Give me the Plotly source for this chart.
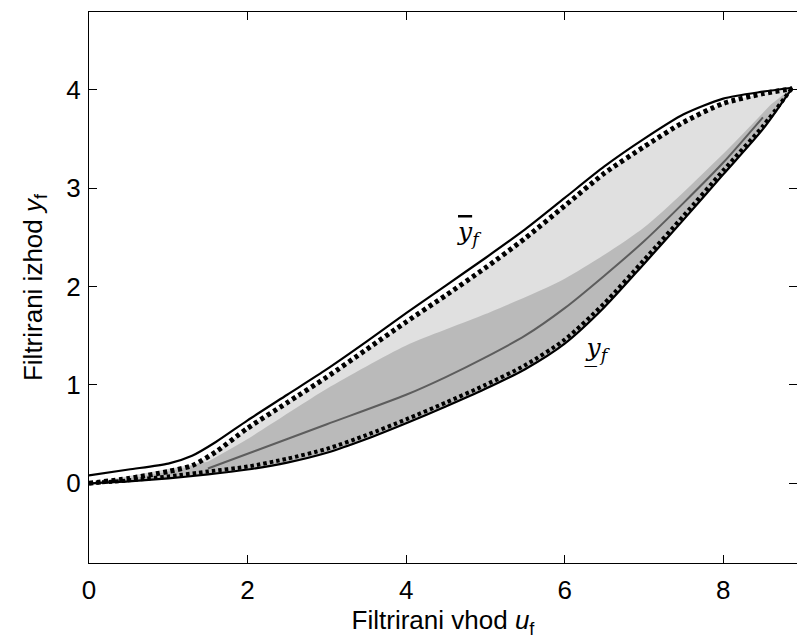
import plotly.graph_objects as go

# ---- data ----
x_up = [0, 0.5, 1.0, 1.3, 1.6, 2.0, 2.5, 3.0, 3.5, 4.0, 4.5, 5.0, 5.5, 6.0, 6.5, 7.0, 7.5, 8.0, 8.5, 8.87]
y_up_solid = [0.08, 0.14, 0.20, 0.28, 0.42, 0.64, 0.90, 1.16, 1.44, 1.73, 2.01, 2.29, 2.58, 2.90, 3.22, 3.50, 3.75, 3.91, 3.98, 4.02]
y_up_dots = [0.0, 0.05, 0.12, 0.18, 0.32, 0.56, 0.82, 1.08, 1.36, 1.64, 1.91, 2.19, 2.49, 2.82, 3.15, 3.42, 3.67, 3.86, 3.96, 4.01]

x_lo = [0, 0.5, 1.0, 1.5, 2.0, 2.5, 3.0, 3.5, 4.0, 4.5, 5.0, 5.5, 6.0, 6.5, 7.0, 7.5, 8.0, 8.5, 8.87]
y_lo_solid = [0.0, 0.02, 0.05, 0.09, 0.14, 0.21, 0.31, 0.45, 0.61, 0.78, 0.96, 1.16, 1.42, 1.79, 2.23, 2.68, 3.14, 3.60, 4.02]
y_lo_dots = [0.0, 0.03, 0.07, 0.12, 0.17, 0.25, 0.35, 0.49, 0.65, 0.82, 1.00, 1.20, 1.46, 1.83, 2.27, 2.72, 3.18, 3.63, 4.02]

x_band = [1.5, 2.0, 3.0, 4.0, 5.0, 6.0, 7.0, 8.0, 8.6]
y_band_top = [0.22, 0.45, 0.96, 1.40, 1.72, 2.08, 2.60, 3.35, 3.85]

x_ridge = [1.5, 2.0, 3.0, 4.0, 4.5, 5.0, 5.5, 6.0, 6.5, 7.0, 7.5, 8.0, 8.5]
y_ridge = [0.15, 0.30, 0.60, 0.90, 1.08, 1.28, 1.50, 1.78, 2.11, 2.46, 2.85, 3.26, 3.72]

x_ticks = [0, 2, 4, 6, 8]
y_ticks = [0, 1, 2, 3, 4]

SM = dict(shape="spline", smoothing=0.7)

fig = go.Figure()

# light cloud: between upper dotted bound and lower bound
fig.add_trace(go.Scatter(x=x_lo, y=y_lo_solid, mode="lines", line=dict(width=0, **SM),
                         showlegend=False, hoverinfo="skip"))
fig.add_trace(go.Scatter(x=x_up, y=y_up_dots, mode="lines", line=dict(width=0, **SM),
                         fill="tonexty", fillcolor="rgba(0,0,0,0.12)",
                         showlegend=False, hoverinfo="skip"))
# denser cloud near the lower bound
fig.add_trace(go.Scatter(x=x_lo, y=y_lo_solid, mode="lines", line=dict(width=0, **SM),
                         showlegend=False, hoverinfo="skip"))
fig.add_trace(go.Scatter(x=x_band, y=y_band_top, mode="lines", line=dict(width=0, **SM),
                         fill="tonexty", fillcolor="rgba(0,0,0,0.17)",
                         showlegend=False, hoverinfo="skip"))
# ridge of highest density
fig.add_trace(go.Scatter(x=x_ridge, y=y_ridge, mode="lines",
                         line=dict(color="rgba(0,0,0,0.5)", width=2, **SM),
                         showlegend=False, hoverinfo="skip"))

# bounds
fig.add_trace(go.Scatter(x=x_up, y=y_up_solid, mode="lines",
                         line=dict(color="black", width=2.2, **SM), showlegend=False))
fig.add_trace(go.Scatter(x=x_up, y=y_up_dots, mode="lines",
                         line=dict(color="black", width=5, dash="4px,3.5px", **SM), showlegend=False))
fig.add_trace(go.Scatter(x=x_lo, y=y_lo_solid, mode="lines",
                         line=dict(color="black", width=2.2, **SM), showlegend=False))
fig.add_trace(go.Scatter(x=x_lo, y=y_lo_dots, mode="lines",
                         line=dict(color="black", width=4, dash="3.5px,3px", **SM), showlegend=False))

fig.add_annotation(x=4.80, y=2.54, xref="x", yref="y", showarrow=False,
                   text='<span style="text-decoration:overline"><i>y</i></span><sub><i>f</i></sub>',
                   font=dict(family="DejaVu Serif", size=25, color="black"))
fig.add_annotation(x=6.41, y=1.35, xref="x", yref="y", showarrow=False,
                   text='<i>y\u0332</i><sub><i>f</i></sub>',
                   font=dict(family="DejaVu Serif", size=25, color="black"))

axis_common = dict(showgrid=False, zeroline=False, showline=True, linecolor="black",
                   linewidth=1.3, mirror="allticks", ticks="inside", ticklen=8,
                   tickcolor="black", tickwidth=1.3,
                   tickfont=dict(family="Liberation Sans", size=26, color="black"))

fig.update_xaxes(range=[0, 8.93], tickvals=x_ticks, ticktext=[str(v) for v in x_ticks],
                 ticklabelstandoff=4,
                 title=dict(text="Filtrirani vhod <i>u</i><sub>f</sub>",
                            font=dict(family="Liberation Sans", size=26, color="black"),
                            standoff=6),
                 **axis_common)
fig.update_yaxes(range=[-0.81, 4.79], tickvals=y_ticks, ticktext=[str(v) for v in y_ticks],
                 ticklabelstandoff=2,
                 title=dict(text="Filtrirani izhod <i>y</i><sub>f</sub>",
                            font=dict(family="Liberation Sans", size=26, color="black"),
                            standoff=16),
                 **axis_common)

fig.update_layout(width=797, height=641, margin=dict(l=89, r=0, t=12, b=78),
                  plot_bgcolor="white", paper_bgcolor="white", showlegend=False)

fig.write_html("out.html")
